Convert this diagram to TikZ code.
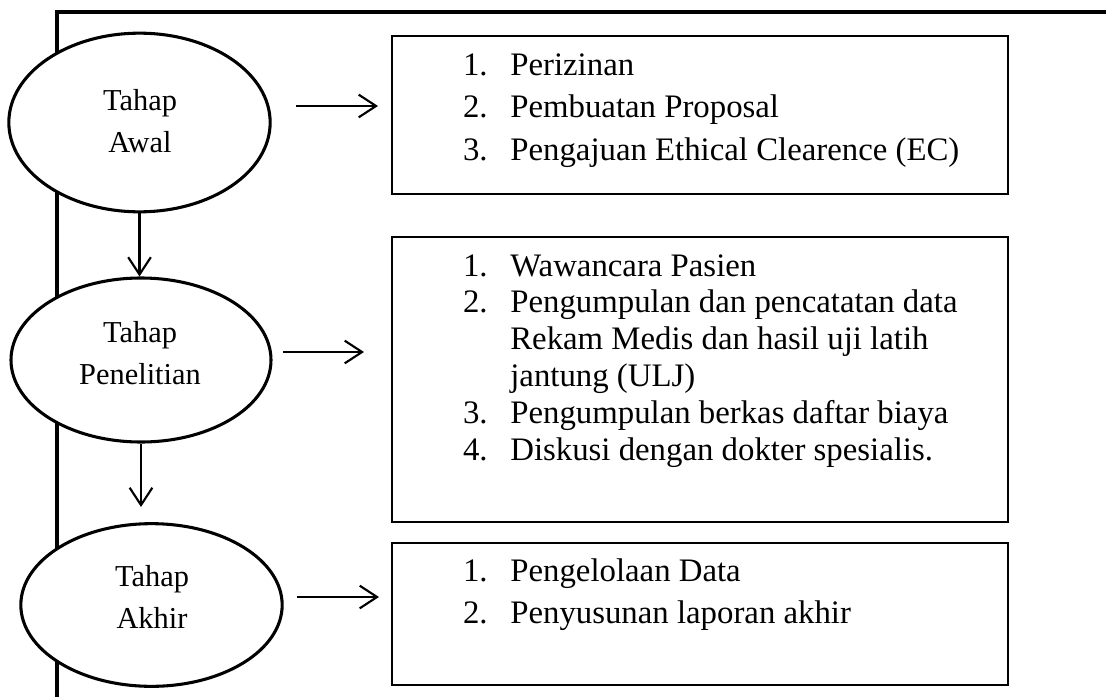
\documentclass[tikz,border=0pt]{standalone}
\usepackage{fontspec}
\setmainfont{Liberation Serif}
\usetikzlibrary{shapes.geometric, arrows.meta, fit}
\begin{document}
\begin{tikzpicture}[x=0.75pt, y=-0.75pt,
  frame/.style={line width=3.2pt},
  ell/.style={ellipse, draw, line width=2.3pt, fill=white, inner sep=0pt},
  etext/.style={align=center, inner sep=0pt, font=\fontsize{22.8pt}{32pt}\selectfont},
  box/.style={draw, line width=1.7pt, inner sep=0pt},
  lst/.style={anchor=base west, inner sep=0pt, outer sep=0pt},
  arr/.style={line width=1.6pt, -{Straight Barb[length=13pt, width=17pt, line width=1.6pt]}}
]
\useasboundingbox (0,0) rectangle (1106,696);
% frame
\coordinate (fr) at (1110,12);
\coordinate (fc) at (57,12);
\coordinate (fb) at (57,700);
\draw[frame] (fr) -- (fc) -- (fb);
% ellipses
\node[ell, minimum width=196pt, minimum height=134pt] (e1) at (139.5,122.5) {};
\node[ell, minimum width=195pt, minimum height=123pt] (e2) at (141,360) {};
\node[ell, minimum width=196pt, minimum height=122pt] (e3) at (151.5,605) {};
\node[etext] (t1) at (140,121) {Tahap\\Awal};
\node[etext] (t2) at (140,353) {Tahap\\Penelitian};
\node[etext] (t3) at (152,597) {Tahap\\Akhir};
% boxes
\node[box, fit={(392,36) (1008,194)}] (b1) {};
\node[box, fit={(392,237) (1008,522)}] (b2) {};
\node[box, fit={(392,543) (1008,685)}] (b3) {};
% lists
\node[lst] (l1) at (463,75.5) {\fontsize{24.6pt}{31.7pt}\selectfont
  \begin{tabular}[t]{@{}p{35.5pt}@{}l@{}}
  1. & Perizinan\\
  2. & Pembuatan Proposal\\
  3. & Pengajuan Ethical Clearence (EC)
  \end{tabular}};
\node[lst] (l2) at (463,276) {\fontsize{24.6pt}{27.7pt}\selectfont
  \begin{tabular}[t]{@{}p{35.5pt}@{}l@{}}
  1. & Wawancara Pasien\\
  2. & Pengumpulan dan pencatatan data\\
     & Rekam Medis dan hasil uji latih\\
     & jantung (ULJ)\\
  3. & Pengumpulan berkas daftar biaya\\
  4. & Diskusi dengan dokter spesialis.
  \end{tabular}};
\node[lst] (l3) at (463,581) {\fontsize{24.6pt}{31.7pt}\selectfont
  \begin{tabular}[t]{@{}p{35.5pt}@{}l@{}}
  1. & Pengelolaan Data\\
  2. & Penyusunan laporan akhir
  \end{tabular}};
% horizontal arrows
\coordinate (a1s) at (296,106);
\coordinate (a1e) at (378,106);
\coordinate (a2s) at (283,352);
\coordinate (a2e) at (364,352);
\coordinate (a3s) at (297,597);
\coordinate (a3e) at (379,597);
\draw[arr] (a1s) -- (a1e);
\draw[arr] (a2s) -- (a2e);
\draw[arr] (a3s) -- (a3e);
% vertical arrows
\coordinate (v2e) at (138,507);
\draw[arr] (e1.south) -- (e1.south |- e2.north);
\draw[arr] (e2.south) -- (e2.south |- v2e);
\end{tikzpicture}
\end{document}
